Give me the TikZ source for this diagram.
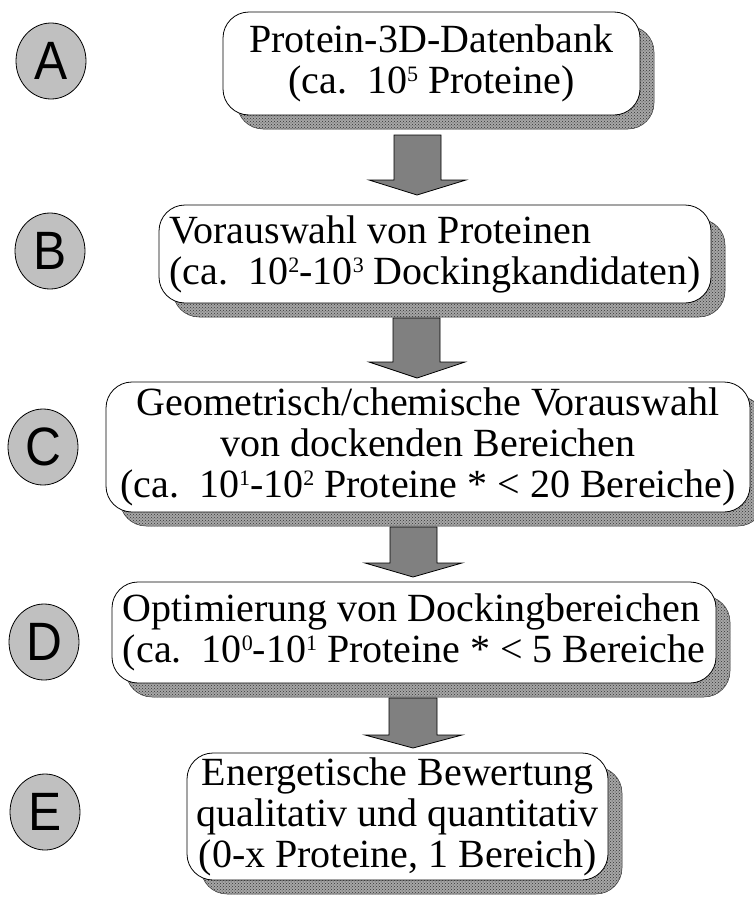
\documentclass[tikz,border=0pt]{standalone}
\usepackage{fontspec}
\setmainfont{Liberation Serif}
\newfontfamily\lettfont{Liberation Sans}
\usetikzlibrary{shadows,shapes.geometric,patterns}
\definecolor{shadowgray}{HTML}{A6A6A6}
\definecolor{arrowgray}{HTML}{808080}
\definecolor{circgray}{HTML}{C0C0C0}
\tikzset{
  stepbox/.style={draw=black, line width=0.8pt, fill=white, rounded corners=26pt,
    inner sep=2pt, font=\fontsize{40}{41}\selectfont,
    drop shadow={shadow xshift=14pt, shadow yshift=-14pt, fill=shadowgray, draw=gray!40!black, line width=0.5pt, opacity=1},
    drop shadow={shadow xshift=14pt, shadow yshift=-14pt, pattern=crosshatch dots, pattern color=gray!40!black, opacity=1}},
  lettcirc/.style={draw=black, line width=0.8pt, fill=circgray, ellipse, minimum width=70pt, minimum height=76pt, inner sep=0pt,
    font=\lettfont\fontsize{54}{54}\selectfont},
  blockarrow/.style={draw=black, line width=0.8pt, fill=arrowgray}
}
\newcommand{\sps}[1]{\smash{\raisebox{0.30em}{\fontsize{22}{22}\selectfont #1}}}
\begin{document}
\begin{tikzpicture}[x=1pt,y=-1pt]
\useasboundingbox (0,0) rectangle (754,897);
% letters
\node[lettcirc] (la) at (51,61) {\scalebox{0.92}[1]{A}};
\node[lettcirc] (lb) at (50,251) {\scalebox{0.92}[1]{B}};
\node[lettcirc] (lc) at (43,447) {\scalebox{0.92}[1]{C}};
\node[lettcirc] (ld) at (44,642) {\scalebox{0.92}[1]{D}};
\node[lettcirc] (le) at (45,812) {\scalebox{0.92}[1]{E}};
% boxes
\node[stepbox, minimum width=417pt, minimum height=103pt, align=center] (A) at (431.5,63.5)
  {Protein-3D-Datenbank\\(ca.\ \ 10\sps{5} Proteine)};
\node[stepbox, minimum width=552pt, minimum height=98pt, align=left] (B) at (435,254)
  {Vorauswahl von Proteinen\\(ca.\ \ 10\sps{2}-10\sps{3} Dockingkandidaten)};
\node[stepbox, minimum width=644pt, minimum height=130pt, align=center] (C) at (428,447)
  {Geometrisch/chemische Vorauswahl\\von dockenden Bereichen\\(ca.\ \ 10\sps{1}-10\sps{2} Proteine * < 20 Bereiche)};
\node[stepbox, minimum width=604pt, minimum height=101pt, align=left] (D) at (414,632.5)
  {Optimierung von Dockingbereichen\\(ca.\ \ 10\sps{0}-10\sps{1} Proteine * < 5 Bereiche};
\node[stepbox, minimum width=421pt, minimum height=127pt, align=center] (E) at (397.5,816.5)
  {Energetische Bewertung\\qualitativ und quantitativ\\(0-x Proteine, 1 Bereich)};
% arrows
\draw[blockarrow] (394,135) -- (441,135) -- (441,180) -- (466,180) -- (417,195) -- (369,180) -- (394,180) -- cycle;
\draw[blockarrow] (393,318) -- (440,318) -- (440,362) -- (465,362) -- (417,378) -- (369,362) -- (393,362) -- cycle;
\draw[blockarrow] (390,527) -- (437,527) -- (437,563) -- (462,563) -- (413,577) -- (365,563) -- (390,563) -- cycle;
\draw[blockarrow] (389,698) -- (437,698) -- (437,735) -- (462,735) -- (413,748) -- (365,735) -- (389,735) -- cycle;
\end{tikzpicture}
\end{document}
